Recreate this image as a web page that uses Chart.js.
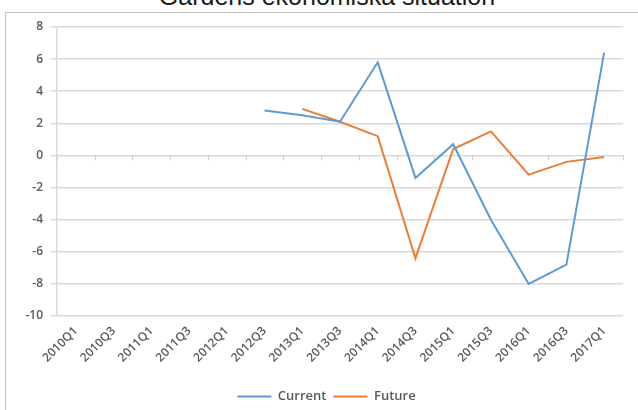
<!DOCTYPE html>
<html><head><meta charset="utf-8">
<script src="https://cdn.jsdelivr.net/npm/chart.js@4/dist/chart.umd.min.js"></script>
<style>
html,body{margin:0;padding:0;background:#fff;}
#wrap{position:relative;width:638px;height:410px;overflow:hidden;background:#fff;}
#title{position:absolute;left:16px;width:622px;top:-19px;text-align:center;font-family:"Liberation Sans",Arial,sans-serif;font-size:25px;color:#1a1a1a;line-height:30px;white-space:nowrap;}
#frame{position:absolute;left:5px;top:12px;width:640px;height:410px;border:1px solid #c4c4c4;box-sizing:border-box;}
#c{position:absolute;left:0;top:0;}
</style></head><body>
<div id="wrap">
<div id="title">Gårdens ekonomiska situation</div>
<div id="frame"></div>
<canvas id="c" width="638" height="410"></canvas>
</div>
<script>
const categories = ["2010Q1","2010Q3","2011Q1","2011Q3","2012Q1","2012Q3","2013Q1","2013Q3","2014Q1","2014Q3","2015Q1","2015Q3","2016Q1","2016Q3","2017Q1"];
const currentValues = [null,null,null,null,null,2.8,2.5,2.1,5.8,-1.4,0.7,-4.0,-8.0,-6.8,6.4];
const futureValues  = [null,null,null,null,null,null,2.9,2.1,1.2,-6.4,0.4,1.5,-1.2,-0.4,-0.1];
const yTicks = {min:-10, max:8, step:2};

const FONT = '"Open Sans","Liberation Sans",sans-serif';

const zeroTicks = {
  id:'zeroTicks',
  beforeDatasetsDraw(chart){
    const x = chart.scales.x, y = chart.scales.y, ctx = chart.ctx;
    const y0 = y.getPixelForValue(0);
    ctx.save();
    ctx.strokeStyle = '#d0d0d0'; ctx.lineWidth = 1;
    for (let i = 0; i <= categories.length; i++) {
      const px = Math.round(x.getPixelForValue(i - 0.5)) + 0.5;
      ctx.beginPath(); ctx.moveTo(px, y0); ctx.lineTo(px, y0 + 5); ctx.stroke();
    }
    ctx.restore();
  }
};

const legendShift = {
  id:'legendShift',
  afterLayout(chart){
    if (chart.legend) {
      chart.legend.left += 7; chart.legend.right += 7;
      chart.legend.top += 3; chart.legend.bottom += 3;
    }
  }
};

new Chart(document.getElementById('c'), {
  type:'line',
  data:{labels:categories, datasets:[
    {label:'Current', data:currentValues, borderColor:'#5B9BD5', backgroundColor:'#5B9BD5', borderWidth:2, pointRadius:0, tension:0, spanGaps:false},
    {label:'Future', data:futureValues, borderColor:'#ED7D31', backgroundColor:'#ED7D31', borderWidth:2, pointRadius:0, tension:0, spanGaps:false}
  ]},
  options:{
    responsive:false, animation:false,
    layout:{padding:{left:16, top:27, right:15, bottom:0}},
    plugins:{
      title:{display:false},
      tooltip:{enabled:false},
      legend:{position:'bottom', labels:{usePointStyle:true, pointStyle:'line', pointStyleWidth:34, boxHeight:2, padding:7, color:'#595959', font:{family:FONT, size:13, weight:'600'}}}
    },
    scales:{
      x:{type:'category', offset:true,
        grid:{display:false, drawTicks:false},
        border:{display:false},
        ticks:{autoSkip:false, maxRotation:45, minRotation:45, padding:8, color:'#595959', font:{family:FONT, size:12, weight:'600'}},
        afterFit(s){ s.height = 64; }
      },
      y:{min:yTicks.min, max:yTicks.max,
        grid:{color:'#d9d9d9', tickLength:6, lineWidth:1.5},
        border:{display:true, color:'#d9d9d9', width:1.5},
        ticks:{stepSize:yTicks.step, padding:8, color:'#595959', font:{family:FONT, size:12, weight:'600'}},
        afterFit(s){ s.width = 41; }
      }
    }
  },
  plugins:[zeroTicks, legendShift]
});
</script>
</body></html>
